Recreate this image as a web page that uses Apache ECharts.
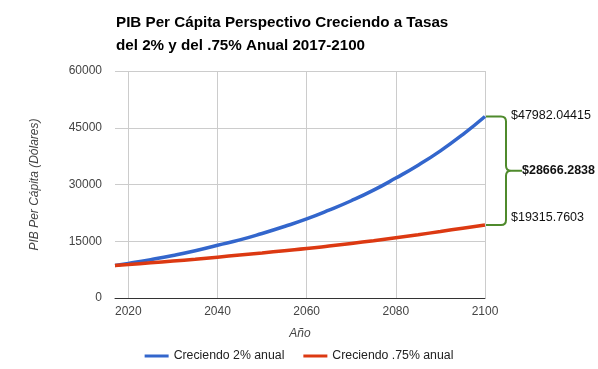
<!DOCTYPE html>
<html>
<head>
<meta charset="utf-8">
<script src="https://cdn.jsdelivr.net/npm/echarts@6/dist/echarts.min.js"></script>
<style>
html,body{margin:0;padding:0;background:#fff;}
#c{width:598px;height:369px;}
</style>
</head>
<body>
<div id="c"></div>
<script>
// Years and values
var years = [2017, 2020, 2025, 2030, 2035, 2040, 2045, 2050, 2055, 2060, 2065, 2070, 2075, 2080, 2085, 2090, 2095, 2100];
var growth2 = [8600, 9150, 10150, 11250, 12500, 13950, 15350, 17050, 18900, 20900, 23200, 25700, 28500, 31700, 35100, 38900, 43200, 47982.04415];
var growth075 = [8600, 8850, 9290, 9750, 10250, 10800, 11350, 11900, 12500, 13070, 13730, 14420, 15150, 15940, 16730, 17580, 18460, 19315.7603];
var xTicks = [2020, 2040, 2060, 2080, 2100];
var seriesNames = ['Creciendo 2% anual', 'Creciendo .75% anual'];
var annotation = [[2100, 47982.04415, 19315.7603, 28666.2838]];
var annotationLabels = ['$47982.04415', '$19315.7603', '$28666.2838'];

var FONT = '"Liberation Sans", Arial, sans-serif';
function pairs(xs, ys){ return xs.map(function(x,i){ return [x, ys[i]]; }); }

var chart = echarts.init(document.getElementById('c'), null, {renderer:'canvas'});
chart.setOption({
  animation: false,
  backgroundColor: '#fff',
  title: {
    text: 'PIB Per Cápita Perspectivo Creciendo a Tasas\ndel 2% y del .75% Anual 2017-2100',
    left: 116, top: 11, padding: 0,
    textStyle: {fontFamily: FONT, fontSize: 15.2, fontWeight: 'bold', color: '#000', lineHeight: 23}
  },
  grid: {left: 115, right: 113, top: 71, bottom: 71, containLabel: false},
  legend: {
    data: seriesNames,
    left: 'center', top: 345,
    icon: 'rect', itemWidth: 24, itemHeight: 3, itemGap: 19,
    textStyle: {fontFamily: FONT, fontSize: 12.3, color: '#222'}
  },
  xAxis: {
    type: 'value', min: 2017, max: 2100,
    name: 'Año', nameLocation: 'middle', nameGap: 30,
    nameTextStyle: {fontFamily: FONT, fontSize: 12, fontStyle: 'italic', color: '#444'},
    axisLine: {show: true, onZero: false, lineStyle: {color: '#333', width: 1}},
    axisTick: {show: false, customValues: xTicks},
    axisLabel: {customValues: xTicks, margin: 8, fontFamily: FONT, fontSize: 12, color: '#444', formatter: function(v){return String(v);}},
    splitLine: {show: true, lineStyle: {color: '#ccc', width: 1}}
  },
  yAxis: {
    type: 'value', min: 0, max: 60000, interval: 15000,
    name: 'PIB Per Cápita (Dólares)', nameLocation: 'middle', nameGap: 74,
    nameTextStyle: {fontFamily: FONT, fontSize: 12, fontStyle: 'italic', color: '#444'},
    axisLine: {show: false}, axisTick: {show: false},
    axisLabel: {margin: 13, fontFamily: FONT, fontSize: 12, color: '#444', formatter: function(v){return String(v);}},
    splitLine: {lineStyle: {color: '#ccc', width: 1}}
  },
  series: [
    {name: seriesNames[0], type: 'line', data: pairs(years, growth2), smooth: true, showSymbol: false,
     color: '#3366cc', lineStyle: {width: 3.5, color: '#3366cc'}},
    {name: seriesNames[1], type: 'line', data: pairs(years, growth075), smooth: true, showSymbol: false,
     color: '#dc3912', lineStyle: {width: 3.5, color: '#dc3912'}},
    {name: 'brace', type: 'custom', data: annotation, clip: false, silent: true, z: 5,
     encode: {x: 0, y: [1, 2]},
     renderItem: function(params, api){
       var top = api.coord([api.value(0), api.value(1)]);
       var bot = api.coord([api.value(0), api.value(2)]);
       var x0 = top[0] + 1, yT = top[1], yB = bot[1], ym = (yT + yB) / 2;
       var xv = x0 + 20;
       var d = 'M' + x0 + ' ' + yT + ' L' + (xv-5) + ' ' + yT + ' Q' + xv + ' ' + yT + ' ' + xv + ' ' + (yT+5) +
               ' L' + xv + ' ' + (ym-5) + ' Q' + xv + ' ' + ym + ' ' + (xv+5) + ' ' + ym +
               ' Q' + xv + ' ' + ym + ' ' + xv + ' ' + (ym+5) +
               ' L' + xv + ' ' + (yB-5) + ' Q' + xv + ' ' + yB + ' ' + (xv-5) + ' ' + yB + ' L' + x0 + ' ' + yB +
               ' M' + (xv+5) + ' ' + ym + ' L' + (xv+16) + ' ' + ym;
       return {type: 'group', children: [
         {type: 'path', shape: {pathData: d}, style: {stroke: '#4f8a2c', lineWidth: 2, fill: null}},
         {type: 'text', style: {text: annotationLabels[0], x: x0 + 25, y: yT - 1, verticalAlign: 'middle', fill: '#111', font: '12.5px ' + FONT}},
         {type: 'text', style: {text: annotationLabels[1], x: x0 + 25, y: yB - 7, verticalAlign: 'middle', fill: '#111', font: '12.5px ' + FONT}},
         {type: 'text', style: {text: annotationLabels[2], x: xv + 16, y: ym, verticalAlign: 'middle', fill: '#111', font: 'bold 12.5px ' + FONT}}
       ]};
     }}
  ]
});
</script>
</body>
</html>
